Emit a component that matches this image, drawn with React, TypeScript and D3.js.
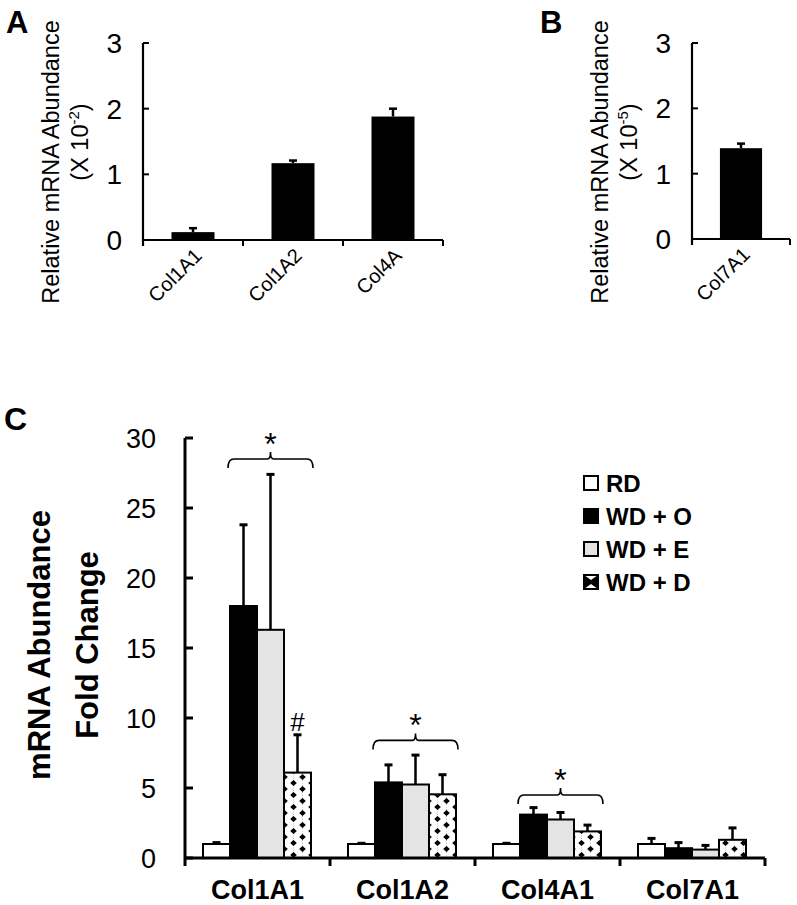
import React from "react";
import * as d3 from "d3";

// Panel A
const aCats = ["Col1A1", "Col1A2", "Col4A"];
const aMeans = [0.12, 1.17, 1.88];
const aErrs = [0.06, 0.04, 0.12];
const aTicks = [0, 1, 2, 3];
// Panel B
const bCats = ["Col7A1"];
const bMeans = [1.39];
const bErrs = [0.07];
// Panel C
const cGroups = ["Col1A1", "Col1A2", "Col4A1", "Col7A1"];
const cSeries = ["RD", "WD + O", "WD + E", "WD + D"];
const rdMeans = [1.0, 1.0, 1.0, 1.0];
const rdErrs = [0.1, 0.05, 0.05, 0.4];
const woMeans = [18.0, 5.4, 3.1, 0.7];
const woErrs = [5.8, 1.25, 0.5, 0.4];
const weMeans = [16.3, 5.25, 2.75, 0.6];
const weErrs = [11.1, 2.1, 0.5, 0.3];
const wdMeans = [6.1, 4.55, 1.9, 1.3];
const wdErrs = [2.7, 1.4, 0.45, 0.85];
const cTicks = [0, 5, 10, 15, 20, 25, 30];
const brackets = [28.5, 8.4, 4.5, null];
const hashMarks = [9.1, null, null, null];

const FONT = "Arial, 'Liberation Sans', Helvetica, sans-serif";
const fills = ["#ffffff", "#000000", "#e4e4e4", "url(#diam)"];

function SmallPanel({ cats, means, errs, x0, x1, y0, y3, exp, letter, letterX }) {
  const x = d3.scaleBand().domain(cats).range([x0, x1]).paddingInner(0.57).paddingOuter(0.285);
  const band = (x1 - x0) / cats.length;
  const y = d3.scaleLinear().domain([0, 3]).range([y0, y3]);
  const labX = x0 - 84;
  const labY = 162;
  return (
    <g>
      <text x={letterX} y={33} fontSize={31} fontWeight="bold" fontFamily={FONT}>{letter}</text>
      <text transform={`translate(${labX},${labY}) rotate(-90)`} textAnchor="middle" fontSize={23.5} fontFamily={FONT}>Relative mRNA Abundance</text>
      <text transform={`translate(${labX + 29},${labY - 20}) rotate(-90)`} textAnchor="middle" fontSize={23.5} fontFamily={FONT}>
        (X 10<tspan dy={-9} fontSize={15}>{exp}</tspan><tspan dy={9}>)</tspan>
      </text>
      {aTicks.map((t) => (
        <g key={t}>
          <line x1={x0} x2={x0 + 6} y1={y(t)} y2={y(t)} stroke="#000" strokeWidth={2} />
          <text x={x0 - 21} y={y(t) + 10} textAnchor="end" fontSize={28} fontFamily={FONT}>{t}</text>
        </g>
      ))}
      <line x1={x0} x2={x0} y1={y(3)} y2={y(0) + 6} stroke="#000" strokeWidth={2.2} />
      <line x1={x0} x2={x1} y1={y(0)} y2={y(0)} stroke="#000" strokeWidth={2.2} />
      {cats.map((c, i) => (
        <line key={c} x1={x0 + band * (i + 1)} x2={x0 + band * (i + 1)} y1={y(0)} y2={y(0) + 6} stroke="#000" strokeWidth={2} />
      ))}
      {cats.map((c, i) => {
        const cx = x(c) + x.bandwidth() / 2;
        return (
          <g key={c}>
            <line x1={cx} x2={cx} y1={y(means[i])} y2={y(means[i] + errs[i])} stroke="#000" strokeWidth={2.5} />
            <line x1={cx - 4} x2={cx + 4} y1={y(means[i] + errs[i])} y2={y(means[i] + errs[i])} stroke="#000" strokeWidth={2.5} />
            <rect x={x(c)} y={y(means[i])} width={x.bandwidth()} height={y(0) - y(means[i])} fill="#000" />
            <text transform={`translate(${cx + 10},${y(0) + 17}) rotate(-45)`} textAnchor="end" fontSize={20} fontFamily={FONT}>{c}</text>
          </g>
        );
      })}
    </g>
  );
}

function PanelC() {
  const x0 = 185, x1 = 765;
  const yBase = 858, yTop = 438;
  const x = d3.scaleBand().domain(cGroups).range([x0, x1]);
  const y = d3.scaleLinear().domain([0, 30]).range([yBase, yTop]);
  const means = [rdMeans, woMeans, weMeans, wdMeans];
  const errs = [rdErrs, woErrs, weErrs, wdErrs];
  const groupInner = (g) => x(g) + 18;
  const bw = 27;
  return (
    <g>
      <text x={4} y={430} fontSize={32} fontWeight="bold" fontFamily={FONT}>C</text>
      <text transform={`translate(50,645) rotate(-90)`} textAnchor="middle" fontSize={31} fontWeight="bold" fontFamily={FONT}>mRNA Abundance</text>
      <text transform={`translate(98,645) rotate(-90)`} textAnchor="middle" fontSize={31} fontWeight="bold" fontFamily={FONT}>Fold Change</text>
      {cTicks.map((t) => (
        <g key={t}>
          <line x1={x0} x2={x0 + 8} y1={y(t)} y2={y(t)} stroke="#000" strokeWidth={3} />
          <text x={156} y={y(t) + 10} textAnchor="end" fontSize={27} fontFamily={FONT}>{t}</text>
        </g>
      ))}
      {cGroups.map((g, gi) => (
        <g key={g}>
          {cSeries.map((s, si) => {
            const bx = groupInner(g) + si * bw;
            const m = means[si][gi];
            const e = errs[si][gi];
            const cx = bx + bw / 2;
            return (
              <g key={s}>
                <line x1={cx} x2={cx} y1={y(m)} y2={y(m + e)} stroke="#000" strokeWidth={2.5} />
                <line x1={cx - 4} x2={cx + 4} y1={y(m + e)} y2={y(m + e)} stroke="#000" strokeWidth={3} />
                <rect x={bx} y={y(m)} width={bw} height={yBase - y(m)} fill={fills[si]} stroke="#000" strokeWidth={2} />
              </g>
            );
          })}
          <text x={x(g) + x.bandwidth() / 2} y={899} textAnchor="middle" fontSize={27} fontWeight="bold" fontFamily={FONT}>{g}</text>
          {brackets[gi] != null && (() => {
            const by = y(brackets[gi]);
            const bx1 = groupInner(g) + bw - 2;
            const bx2 = groupInner(g) + 4 * bw + 2;
            const cx = (bx1 + bx2) / 2;
            return (
              <g>
                <path d={`M${bx1},${by + 9} Q${bx1},${by} ${bx1 + 6},${by} L${cx - 3},${by} Q${cx},${by} ${cx},${by - 7} Q${cx},${by} ${cx + 3},${by} L${bx2 - 6},${by} Q${bx2},${by} ${bx2},${by + 9}`} fill="none" stroke="#000" strokeWidth={1.6} />
                <text x={cx} y={by - 4} textAnchor="middle" fontSize={32} fontFamily={FONT}>*</text>
              </g>
            );
          })()}
          {hashMarks[gi] != null && (
            <text x={groupInner(g) + 3.5 * bw} y={y(hashMarks[gi])} textAnchor="middle" fontSize={26} fontFamily={FONT}>#</text>
          )}
        </g>
      ))}
      <line x1={x0} x2={x0} y1={yTop} y2={yBase + 8} stroke="#000" strokeWidth={3} />
      <line x1={x0} x2={x1} y1={yBase} y2={yBase} stroke="#000" strokeWidth={3} />
      {cGroups.map((g) => (
        <line key={g} x1={x(g) + x.bandwidth()} x2={x(g) + x.bandwidth()} y1={yBase} y2={yBase + 8} stroke="#000" strokeWidth={3} />
      ))}
      {cSeries.map((s, i) => (
        <g key={s} transform={`translate(584,${483 + i * 33})`}>
          <rect x={0} y={-7} width={14} height={14} fill={fills[i] === "url(#diam)" ? "url(#diamL)" : fills[i]} stroke="#000" strokeWidth={2} />
          <text x={22} y={9} fontSize={24} fontWeight="bold" fontFamily={FONT}>{s}</text>
        </g>
      ))}
    </g>
  );
}

export default function App() {
  return (
    <div style={{ position: "absolute", left: 0, top: 0 }}>
      <svg width={797} height={905} style={{ display: "block", background: "#fff" }}>
        <defs>
          <pattern id="diam" patternUnits="userSpaceOnUse" width={18} height={12} x={1} y={0}>
            <rect width={18} height={12} fill="#fff" />
            <line x1={4.5} x2={4.5} y1={0} y2={12} stroke="#999" strokeWidth={0.6} strokeDasharray="1,1.5" />
            <line x1={13.5} x2={13.5} y1={0} y2={12} stroke="#999" strokeWidth={0.6} strokeDasharray="1,1.5" />
            <path d="M4.5,0 L7.8,3 L4.5,6 L1.2,3 Z" fill="#000" />
            <path d="M13.5,6 L16.8,9 L13.5,12 L10.2,9 Z" fill="#000" />
          </pattern>
          <pattern id="diamL" patternUnits="objectBoundingBox" width={1} height={1}>
            <rect width={14} height={14} fill="#fff" />
            <path d="M0,0 L7,5 L14,0 L14,14 L7,9 L0,14 Z" fill="#000" />
          </pattern>
        </defs>
        <SmallPanel cats={aCats} means={aMeans} errs={aErrs} x0={143} x1={443} y0={240} y3={43} exp="-2" letter="A" letterX={6} />
        <SmallPanel cats={bCats} means={bMeans} errs={bErrs} x0={692} x1={790} y0={239} y3={43} exp="-5" letter="B" letterX={540} />
        <PanelC />
      </svg>
    </div>
  );
}
